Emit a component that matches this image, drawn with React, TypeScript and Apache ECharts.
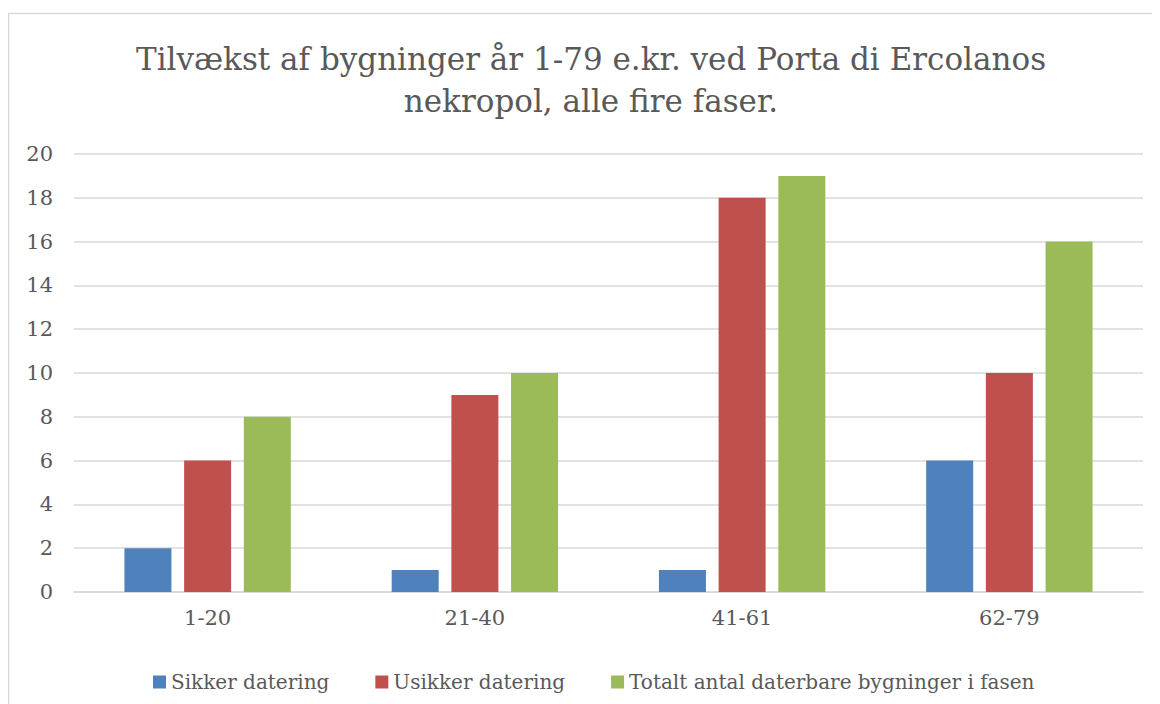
import React, { useEffect, useRef } from "react";
import * as echarts from "echarts";

const categories = ["1-20", "21-40", "41-61", "62-79"];
const sikker = [2, 1, 1, 6];
const usikker = [6, 9, 18, 10];
const totalt = [8, 10, 19, 16];
const seriesNames = ["Sikker datering", "Usikker datering", "Totalt antal daterbare bygninger i fasen"];
const titleText = "Tilvækst af bygninger år 1-79 e.kr. ved Porta di Ercolanos\nnekropol, alle fire faser.";

const FONT = "'DejaVu Serif', serif";
const TXT = "#595959";

export default function App() {
  const ref = useRef<HTMLDivElement>(null);
  useEffect(() => {
    const chart = echarts.init(ref.current!, null, { renderer: "svg" });
    const colors = ["#4F81BD", "#C0504D", "#9BBB59"];
    const data = [sikker, usikker, totalt];
    chart.setOption({
      animation: false,
      title: {
        text: titleText,
        left: 578,
        top: 25,
        textAlign: "center",
        textStyle: {
          fontFamily: FONT,
          fontWeight: "normal",
          fontSize: 31,
          lineHeight: 42,
          color: TXT,
        },
      },
      graphic: [
        {
          type: "rect",
          shape: { x: 0.5, y: 5.5, width: 1200, height: 800 },
          style: { fill: "none", stroke: "#D9D9D9", lineWidth: 1.5 },
          silent: true,
        },
      ],
      legend: {
        data: seriesNames,
        left: 140,
        top: 659,
        width: 1000,
        itemWidth: 13,
        itemHeight: 13,
        itemGap: 46,
        icon: "rect",
        textStyle: { fontFamily: FONT, fontSize: 20, color: TXT },
      },
      grid: { left: 66, right: 17, top: 146, bottom: 112, containLabel: false },
      xAxis: {
        type: "category",
        data: categories,
        axisLine: { show: true, lineStyle: { color: "#D9D9D9", width: 1.5 } },
        axisTick: { show: false },
        axisLabel: { fontFamily: FONT, fontSize: 21, color: TXT, margin: 15 },
      },
      yAxis: {
        type: "value",
        min: 0,
        max: 20,
        interval: 2,
        axisLine: { show: false },
        axisTick: { show: false },
        splitLine: { lineStyle: { color: "#D9D9D9", width: 1.5 } },
        axisLabel: { fontFamily: FONT, fontSize: 21, color: TXT, margin: 21 },
      },
      series: seriesNames.map((n, i) => ({
        name: n,
        type: "bar",
        data: data[i],
        barWidth: 47,
        barGap: "27%",
        itemStyle: { color: colors[i] },
      })),
    });
    return () => chart.dispose();
  }, []);
  return <div ref={ref} style={{ width: 1152, height: 696 }} />;
}
